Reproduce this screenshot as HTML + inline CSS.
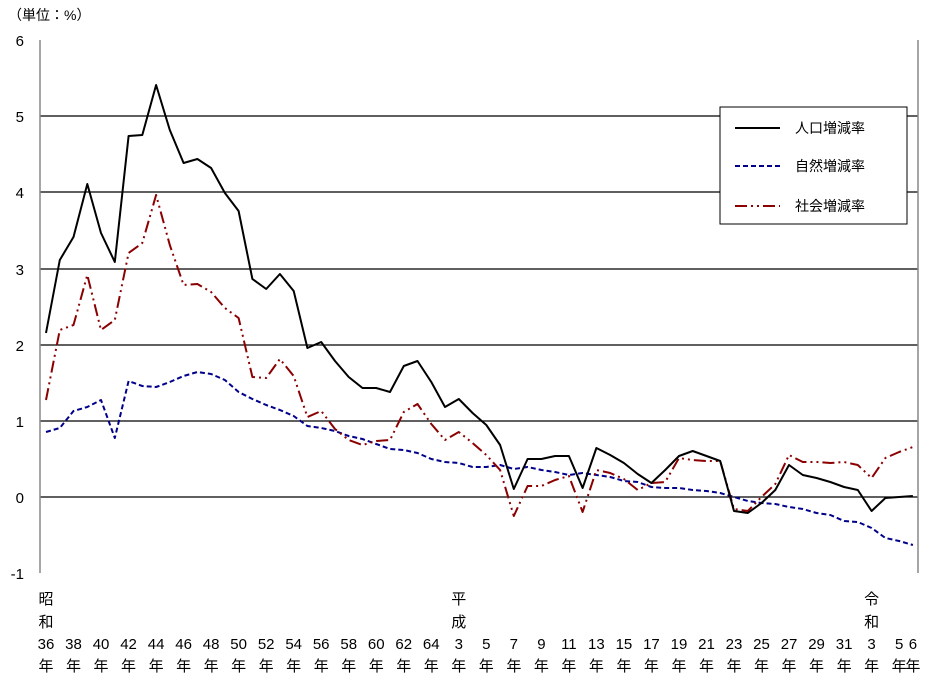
<!DOCTYPE html>
<html><head><meta charset="utf-8"><style>
html,body{margin:0;padding:0;background:#fff;}
svg text{font-family:"Liberation Sans","Noto Sans CJK JP",sans-serif;font-size:15px;fill:#000;}
</style></head><body>
<svg width="938" height="685" xmlns="http://www.w3.org/2000/svg">
<text x="8" y="20" style="font-size:14px">（単位：%）</text>
<g stroke="#000" stroke-width="1.2">
<line x1="40" y1="116" x2="918" y2="116"/>
<line x1="40" y1="192" x2="918" y2="192"/>
<line x1="40" y1="269" x2="918" y2="269"/>
<line x1="40" y1="345" x2="918" y2="345"/>
<line x1="40" y1="421" x2="918" y2="421"/>
<line x1="40" y1="497" x2="918" y2="497"/>
</g>
<line x1="40" y1="40" x2="40" y2="573" stroke="#888" stroke-width="1.5"/>
<line x1="918" y1="40" x2="918" y2="573" stroke="#888" stroke-width="1.5"/>
<g text-anchor="end">
<text x="24" y="46">6</text><text x="24" y="122">5</text><text x="24" y="198">4</text>
<text x="24" y="275">3</text><text x="24" y="351">2</text><text x="24" y="427">1</text>
<text x="24" y="503">0</text><text x="24" y="579">-1</text>
</g>
<g id="lines" fill="none" stroke-linejoin="round"></g>
<rect x="720" y="107" width="187" height="117" fill="#fff" stroke="#000" stroke-width="1"/>
<line x1="735" y1="128" x2="780" y2="128" stroke="#000" stroke-width="2"/>
<line x1="735" y1="166" x2="780" y2="166" stroke="#00008b" stroke-width="2" stroke-dasharray="5,3"/>
<line x1="735" y1="206" x2="780" y2="206" stroke="#8b0000" stroke-width="2" stroke-dasharray="12,4,2,4,2,4"/>
<text x="795" y="133" style="font-size:14px">人口増減率</text>
<text x="795" y="171" style="font-size:14px">自然増減率</text>
<text x="795" y="211" style="font-size:14px">社会増減率</text>
<g id="xl" text-anchor="middle"></g>
</svg>
<script>
var X=function(i){return 46+13.76*i;};
var b=[333,260,237,184,233,262,136,135,85,130,163,159,168,193,211,279,289,274,291,348,342,361,377,388,388,392,366,361,382,407,399,413,425,445,489,459,459,456,456,488,448,455,463,474,483,470,456,451,456,461,511,513,503,490,465,475,478,482,487,490,511,498,497,496];
var n=[432,428,411,407,400,438,381,386,387,382,376,372,374,380,392,399,405,410,416,426,428,431,436,439,444,449,450,453,459,462,463,467,467,465,469,467,470,472,475,473,475,477,481,482,487,488,488,490,491,493,497,501,503,504,507,509,513,515,521,522,528,538,541,545];
var r=[400,330,325,275,330,320,253,243,195,245,285,284,292,308,318,377,378,359,376,417,411,429,440,445,441,440,412,404,424,440,432,443,455,470,516,486,486,480,476,512,470,473,479,490,483,482,458,460,461,461,509,511,497,484,455,462,462,463,462,465,478,458,452,447];
function pts(a){return a.map(function(y,i){return X(i).toFixed(1)+","+y;}).join(" ");}
var ns="http://www.w3.org/2000/svg",g=document.getElementById("lines");
function pl(a,c,d){var p=document.createElementNS(ns,"polyline");p.setAttribute("points",pts(a));p.setAttribute("stroke",c);p.setAttribute("stroke-width","2");if(d)p.setAttribute("stroke-dasharray",d);g.appendChild(p);}
pl(n,"#00008b","5,3");pl(r,"#8b0000","12,4,2,4,2,4");pl(b,"#000","");
var xl=document.getElementById("xl");
function t(x,y,s){var e=document.createElementNS(ns,"text");e.setAttribute("x",x);e.setAttribute("y",y);e.textContent=s;xl.appendChild(e);}
for(var i=0;i<=63;i++){
 var lab=null;
 if(i<=28&&i%2==0)lab=36+i;
 else if(i>=30&&i<=58&&i%2==0)lab=i-27;
 else if(i==60)lab=3;else if(i==62)lab=5;else if(i==63)lab=6;
 if(lab!==null){t(X(i),649,String(lab));t(X(i),671,"年");}
}
t(X(0),604,"昭");t(X(0),627,"和");
t(X(30),604,"平");t(X(30),627,"成");
t(X(60),604,"令");t(X(60),627,"和");
</script>
</body></html>
